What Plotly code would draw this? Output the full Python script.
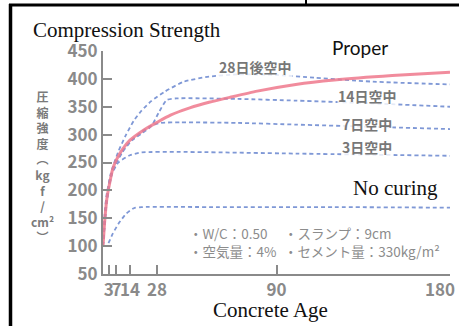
import plotly.graph_objects as go

# Concrete age (days) and compressive strength (kgf/cm2) for each curing condition
days_proper = [0, 1, 2, 3, 5, 7, 10, 14, 21, 28, 35, 45, 55, 66, 80, 100, 120, 150, 180]
str_proper = [100, 150, 185, 205, 238, 255, 273, 290, 308, 322, 335, 348, 358, 367, 378, 390, 398, 406, 412]

days_air28 = [0, 2, 4, 8, 12, 16, 20, 25, 32, 42, 55, 70, 90, 110, 140, 180]
str_air28 = [100, 190, 230, 270, 300, 325, 343, 360, 377, 395, 404, 408, 407, 402, 395, 390]

days_air14 = [0, 2, 5, 10, 15, 20, 25, 29, 33, 38, 70, 100, 140, 180]
str_air14 = [100, 180, 235, 270, 290, 302, 315, 340, 362, 365, 364, 361, 356, 350]

days_air7 = [0, 2, 5, 10, 15, 20, 25, 30, 40, 70, 100, 140, 180]
str_air7 = [100, 180, 235, 268, 290, 305, 316, 321, 322, 321, 318, 314, 310]

days_air3 = [0, 1, 2, 4, 8, 14, 20, 40, 100, 180]
str_air3 = [100, 165, 195, 225, 250, 263, 268, 269, 266, 262]

days_none = [0, 2, 5, 8, 12, 16, 20, 60, 120, 180]
str_none = [100, 101, 122, 140, 158, 168, 170, 170, 170, 169]

x_ticks = [3, 7, 14, 28, 90, 180]
# last label padded with two transparent digits so it sits left of its tick
x_tick_text = ["3", "7", "14", "28", "90",
               "180<span style='color:rgba(0,0,0,0)'>00</span>"]
y_ticks = [50, 100, 150, 200, 250, 300, 350, 400, 450]

curve_labels = ["28日後空中", "14日空中", "7日空中", "3日空中"]
curve_label_pos = [(79, 421), (137, 369), (137, 319), (137, 277)]

y_title_chars = ["圧", "縮", "強", "度", "︵", "kg", "f", "/", "cm²", "︶"]
notes_col1 = ["・W/C：0.50", "・空気量：4%"]
notes_col2 = ["・スランプ：9cm", "・セメント量：330kg/m²"]

W, H = 459, 326
L, R, T, B = 103, 9, 51, 52
PW, PH = W - L - R, H - T - B


def px(x):
    return (x - L) / PW


def py(y):
    return (H - B - y) / PH


GRAY = "#8a8a8a"
DASH = "#7f98d6"
JP = "Noto Sans CJK JP"

fig = go.Figure()

dashed = [(days_none, str_none), (days_air3, str_air3), (days_air7, str_air7),
          (days_air14, str_air14), (days_air28, str_air28)]
for xs, ys in dashed:
    fig.add_trace(go.Scatter(x=xs, y=ys, mode="lines",
                             line=dict(color=DASH, width=1.8, dash="4px,3px",
                                       shape="spline", smoothing=0.6),
                             hoverinfo="skip", showlegend=False))

fig.add_trace(go.Scatter(x=days_proper, y=str_proper, mode="lines",
                         line=dict(color="rgba(238,120,140,0.85)", width=3,
                                   shape="spline", smoothing=0.6),
                         hoverinfo="skip", showlegend=False))

annotations = []
for text, (xd, yd) in zip(curve_labels, curve_label_pos):
    annotations.append(dict(x=xd, y=yd, xref="x", yref="y", text=text, showarrow=False,
                            xanchor="center", yanchor="middle",
                            font=dict(family=JP, size=14, color="#777777", weight="bold"),
                            bgcolor="rgba(255,255,255,0.8)", borderpad=0))

# vertical axis title, one glyph per line
annotations.append(dict(x=px(42), y=py(166), xref="paper", yref="paper",
                        text="<br>".join(y_title_chars), showarrow=False,
                        xanchor="center", yanchor="middle", align="center",
                        font=dict(family=JP, size=12, color="#7a7a7a", weight="bold")))

# mix-proportion notes, two columns
for cx, lines in ((187, notes_col1), (282, notes_col2)):
    annotations.append(dict(x=px(cx), y=py(242), xref="paper", yref="paper",
                            text="<br>".join(lines), showarrow=False, align="left",
                            xanchor="left", yanchor="middle",
                            font=dict(family=JP, size=13.5, color="#8c8c8c")))

annotations += [
    dict(x=px(127), y=py(30), xref="paper", yref="paper", text="Compression Strength",
         showarrow=False, xanchor="center", yanchor="middle",
         font=dict(family="Liberation Serif", size=21, color="#111111")),
    dict(x=px(360), y=py(48), xref="paper", yref="paper", text="Proper",
         showarrow=False, xanchor="center", yanchor="middle",
         font=dict(family="Lato", size=19, color="#111111")),
    dict(x=px(395), y=py(188), xref="paper", yref="paper", text="No curing",
         showarrow=False, xanchor="center", yanchor="middle",
         font=dict(family="Liberation Serif", size=21, color="#111111")),
    dict(x=px(270), y=py(310), xref="paper", yref="paper", text="Concrete Age",
         showarrow=False, xanchor="center", yanchor="middle",
         font=dict(family="Liberation Serif", size=21, color="#111111")),
]

shapes = [
    dict(type="line", xref="paper", yref="paper", x0=px(9), x1=px(W), y0=py(5), y1=py(5),
         line=dict(color="black", width=3)),
    dict(type="line", xref="paper", yref="paper", x0=px(10.5), x1=px(10.5), y0=py(4), y1=py(H),
         line=dict(color="black", width=3.5)),
    dict(type="line", xref="paper", yref="paper", x0=px(306), x1=px(306), y0=py(0), y1=py(5),
         line=dict(color="black", width=2)),
]

axis_common = dict(showline=True, linecolor=GRAY, linewidth=2, ticks="inside", ticklen=9,
                   tickwidth=2, tickcolor=GRAY, showgrid=False, zeroline=False,
                   automargin=False,
                   tickfont=dict(family=JP, size=17, color=GRAY, weight="bold"))

fig.update_layout(
    width=W, height=H,
    margin=dict(l=L, r=R, t=T, b=B, pad=0, autoexpand=False),
    paper_bgcolor="white", plot_bgcolor="white",
    xaxis=dict(range=[0, 180], tickvals=x_ticks, ticktext=x_tick_text,
               tickangle=0, ticklabeloverflow="allow", **axis_common),
    yaxis=dict(range=[50, 450], tickvals=y_ticks, ticktext=[str(v) for v in y_ticks],
               **axis_common),
    annotations=annotations,
    shapes=shapes,
    showlegend=False,
)

fig.write_html("out.html")
